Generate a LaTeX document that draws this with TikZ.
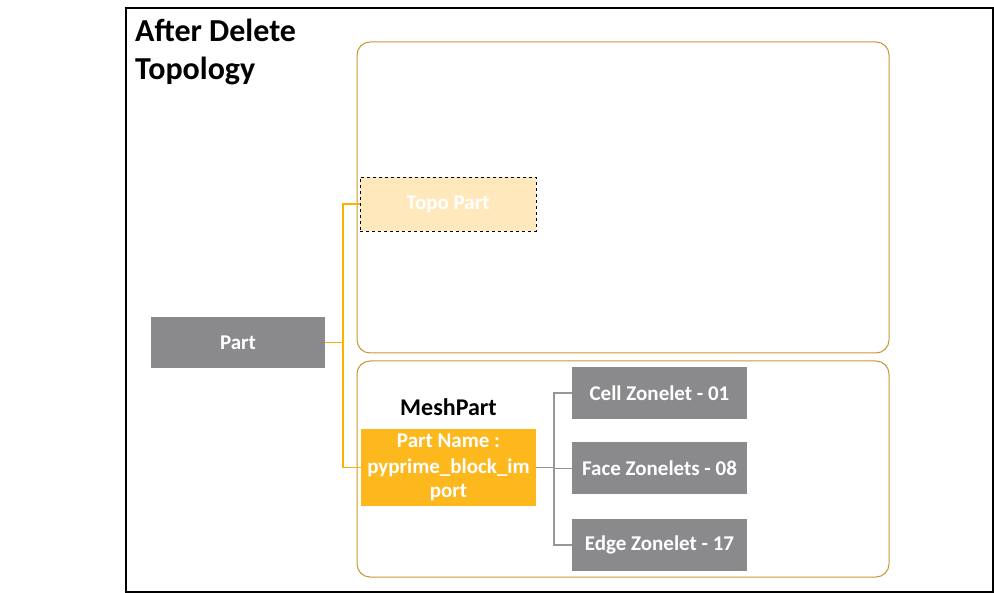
\documentclass[tikz,border=0pt]{standalone}
\usepackage{fontspec}
\setmainfont{Carlito}
\definecolor{partgray}{RGB}{138,138,141}
\definecolor{panelgold}{RGB}{201,150,46}
\definecolor{amber}{RGB}{253,184,30}
\definecolor{paleamber}{RGB}{255,232,187}
\definecolor{linkgold}{RGB}{255,176,0}
\definecolor{linkgray}{RGB}{150,150,150}
\usepackage{tikz}
\usetikzlibrary{positioning}
\usetikzlibrary{calc}

\tikzset{
    box/.style={minimum width=175pt, minimum height=52pt, inner sep=2pt, align=center,
        text=white, font=\fontsize{21}{24.5}\selectfont\bfseries},
    graybox/.style={box, fill=partgray},
    topobox/.style={box, minimum width=176pt, minimum height=54pt, fill=paleamber, draw=black, dashed, line width=0.8pt},
    namebox/.style={box, minimum height=77pt, fill=amber},
    panel/.style={draw=panelgold, line width=1pt, rounded corners=13pt},
    goldlink/.style={draw=linkgold, line width=1.6pt},
    graylink/.style={draw=linkgray, line width=1.5pt}
}

\begin{document}
\begin{tikzpicture}[x=1pt, y=-1pt]
        \useasboundingbox (0,0) rectangle (994,593);

        % Frame and title
        \draw[line width=1.5pt] (126,8) rectangle (993,592);
        \node (title) [anchor=north west, align=left, inner sep=0pt, font=\fontsize{32}{37.5}\selectfont\bfseries] at (135,19) {After Delete\\Topology};

        % Panels
        \draw[panel] (357,42) rectangle (889,353);
        \draw[panel] (357,361) rectangle (889,577);

        % Part and its children
        \node[graybox, minimum width=174pt, minimum height=51pt] (part) at (238,342.5) {Part};
        \node[topobox] (topo) at (448,204) {Topo Part};
        \node[namebox] (pname) at (448.5,467.5) {Part Name :\\[1pt]pyprime\_block\_im\\port};
        \node[above=13pt of pname, inner sep=0pt, font=\fontsize{24}{28}\selectfont\bfseries] (meshlbl) {MeshPart};

        % Zonelets
        \node[graybox] (cell) at (659.5,393) {Cell Zonelet - 01};
        \node[graybox, below=23pt of cell] (face) {Face Zonelets - 08};
        \node[graybox, below=24pt of face] (edge) {Edge Zonelet - 17};

        % Links
        \draw[goldlink] (part.east) -- ++(18,0) |- (topo.west);
        \draw[goldlink] (part.east) -- ++(18,0) |- (pname.west);
        \foreach \z in {cell, face, edge}
            \draw[graylink] (pname.east) -- ++(18,0) |- (\z.west);

    \end{tikzpicture}
\end{document}
